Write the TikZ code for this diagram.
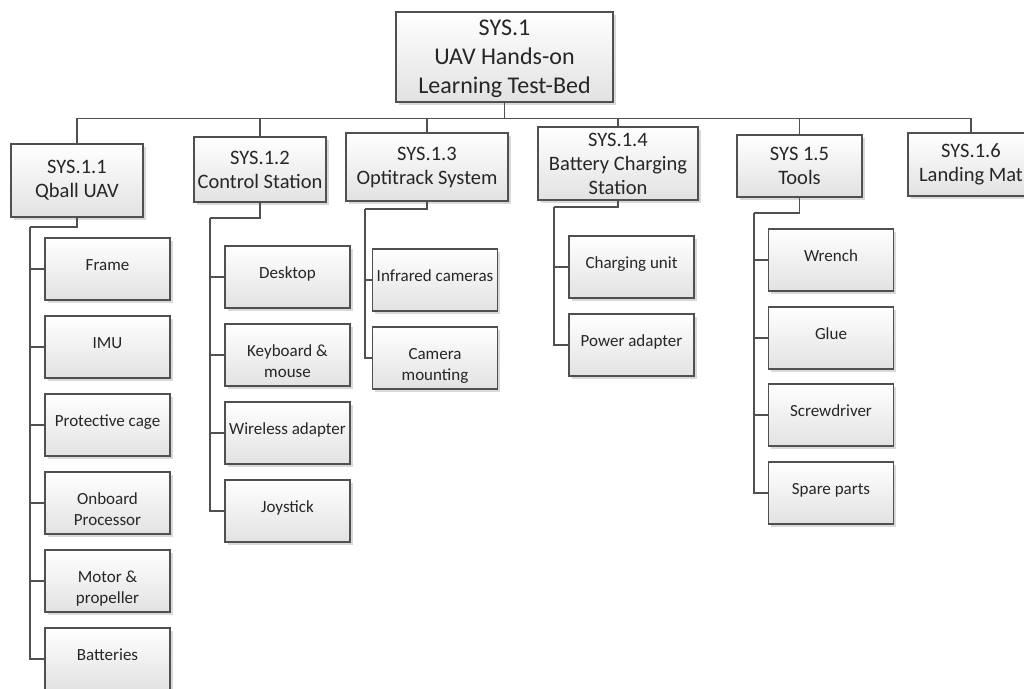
\documentclass[tikz,border=0pt]{standalone}
\usepackage{fontspec}
\setmainfont{Carlito}
\usetikzlibrary{shadows}
\definecolor{boxline}{HTML}{505050}
\definecolor{txt}{HTML}{262626}
\definecolor{boxbot}{HTML}{E2E2E2}
\newcommand{\leaftext}[1]{\parbox[c][62pt][t]{125pt}{\centering\rule{0pt}{32pt}#1}}
\tikzset{
  basebox/.style={draw=boxline, line width=1.2pt, top color=white, bottom color=boxbot,
    drop shadow={shadow xshift=2.5pt, shadow yshift=-2.5pt, fill=black, opacity=0.15},
    text=txt, inner sep=0pt},
  topbox/.style={basebox, minimum width=217pt, minimum height=90pt, align=center,
    font=\fontsize{24}{29}\selectfont},
  midbox/.style={basebox, align=center, font=\fontsize{20.5}{24}\selectfont},
  leaf/.style={basebox, font=\fontsize{17}{21}\selectfont},
  conn/.style={draw=boxline, line width=1.2pt}
}
\begin{document}
\begin{tikzpicture}[x=1pt,y=-1pt]
\useasboundingbox (0,0) rectangle (1024,688);
\clip (0,0) rectangle (1024,688);
\fill[white] (0,0) rectangle (1024,688);

% top
\node[topbox] (top) at (504.5,57) {\rule{0pt}{20pt}SYS.1\\UAV Hands-on\\Learning Test-Bed};

% level 2
\node[midbox, minimum width=132pt, minimum height=73pt] (b11) at (77,180.5) {SYS.1.1\\Qball UAV};
\node[midbox, minimum width=132pt, minimum height=65pt] (b12) at (260,169.5) {SYS.1.2\\Control Station};
\node[midbox, minimum width=162pt, minimum height=68pt] (b13) at (427,167) {SYS.1.3\\Optitrack System};
\node[midbox, minimum width=160pt, minimum height=73pt] (b14) at (618,163.5) {SYS.1.4\\Battery Charging\\Station};
\node[midbox, minimum width=125pt, minimum height=62pt] (b15) at (799.5,166) {SYS 1.5\\Tools};
\node[midbox, minimum width=126pt, minimum height=63pt] (b16) at (971,164.5) {SYS.1.6\\Landing Mat};

\foreach \b in {b11,b12,b13,b14,b15,b16}
  \draw[conn] (top.south) -- ++(0,16) -| (\b.north);

% leaves SYS.1.1
\node[leaf] (l1) at (107.5,269) {\leaftext{Frame}};
\node[leaf] (l2) at (107.5,347) {\leaftext{IMU}};
\node[leaf] (l3) at (107.5,425) {\leaftext{Protective cage}};
\node[leaf] (l4) at (107.5,503) {\leaftext{Onboard\\Processor}};
\node[leaf] (l5) at (107.5,581) {\leaftext{Motor \&\\propeller}};
\node[leaf] (l6) at (107.5,659) {\leaftext{Batteries}};
\coordinate (e11) at (30,227);
\draw[conn] (b11.south) |- (e11);
\foreach \l in {l1,l2,l3,l4,l5,l6} \draw[conn] (e11) |- (\l.west);

% leaves SYS.1.2
\node[leaf] (c1) at (287.5,277) {\leaftext{Desktop}};
\node[leaf] (c2) at (287.5,355) {\leaftext{Keyboard \&\\mouse}};
\node[leaf] (c3) at (287.5,433) {\leaftext{Wireless adapter}};
\node[leaf] (c4) at (287.5,511) {\leaftext{Joystick}};
\coordinate (e12) at (210,218);
\draw[conn] (b12.south) |- (e12);
\foreach \l in {c1,c2,c3,c4} \draw[conn] (e12) |- (\l.west);

% leaves SYS.1.3
\node[leaf] (o1) at (435,280) {\leaftext{Infrared cameras}};
\node[leaf] (o2) at (435,358) {\leaftext{Camera\\mounting}};
\coordinate (e13) at (365,209);
\draw[conn] (b13.south) |- (e13);
\foreach \l in {o1,o2} \draw[conn] (e13) |- (\l.west);

% leaves SYS.1.4
\node[leaf] (p1) at (631.5,267) {\leaftext{Charging unit}};
\node[leaf] (p2) at (631.5,345) {\leaftext{Power adapter}};
\coordinate (e14) at (554,207);
\draw[conn] (b14.south) |- (e14);
\foreach \l in {p1,p2} \draw[conn] (e14) |- (\l.west);

% leaves SYS 1.5
\node[leaf] (t1) at (831,260) {\leaftext{Wrench}};
\node[leaf] (t2) at (831,338) {\leaftext{Glue}};
\node[leaf] (t3) at (831,415) {\leaftext{Screwdriver}};
\node[leaf] (t4) at (831,493) {\leaftext{Spare parts}};
\coordinate (e15) at (754,213);
\draw[conn] (b15.south) |- (e15);
\foreach \l in {t1,t2,t3,t4} \draw[conn] (e15) |- (\l.west);
\end{tikzpicture}
\end{document}
